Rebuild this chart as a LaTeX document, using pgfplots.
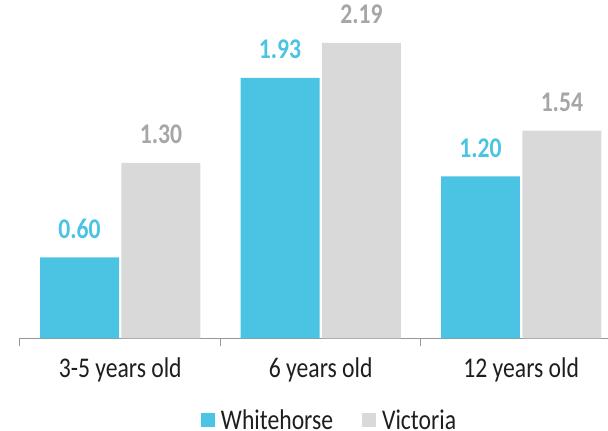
\documentclass[border=0pt]{standalone}
\usepackage{fontspec}
\setmainfont{Carlito}[FakeStretch=0.83]
\usepackage{pgfplots}
\pgfplotsset{compat=1.18}
\definecolor{whBlue}{RGB}{75,195,226}
\definecolor{viGray}{RGB}{217,217,217}
\definecolor{viLabel}{RGB}{166,166,166}
\definecolor{axGray}{RGB}{150,150,150}
\definecolor{txt}{RGB}{30,30,30}

\begin{document}
\fontsize{28.5}{32}\selectfont
\begin{tikzpicture}
\path[use as bounding box] (-20pt,-92.5pt) rectangle (588pt,338.5pt);
\begin{axis}[
    at={(0,0)}, anchor=south west,
    scale only axis, width=588pt, height=338.5pt,
    xmin=-0.5, xmax=2.433, ymin=0, ymax=2.507,
    ybar, bar width=0.394,
    axis x line*=bottom, axis y line=none,
    axis line style={axGray, line width=1pt},
    clip=false,
    tick align=outside,
    major tick length=0pt,
    xtick={0,1,2},
    xticklabels={3-5 years old, 6 years old, 12 years old},
    xticklabel style={anchor=base, yshift=-38.5pt, text=txt},
    extra x ticks={-0.5,0.5,1.5,2.5},
    extra x tick labels={},
    extra tick style={major tick length=7pt, tick style={axGray, line width=1pt}},
    /pgf/number format/assume math mode=true,
    nodes near coords={\pgfmathprintnumber[fixed,fixed zerofill,precision=2]{\pgfplotspointmeta}},
    every node near coord/.append style={font=\bfseries, anchor=base, yshift=19pt},
    legend columns=2,
    legend image code/.code={\fill[#1] (0pt,-5pt) rectangle (14pt,9pt);},
    legend style={draw=none, fill=none, at={(0.3078,-0.281)}, anchor=south west,
        inner sep=0pt, outer sep=0pt, text=txt, nodes={inner sep=0pt},
        /tikz/every odd column/.append style={column sep=6pt},
        /tikz/every even column/.append style={column sep=29pt}},
]
\addplot[fill=whBlue, draw=none, bar shift=-0.203,
    every node near coord/.append style={text=whBlue}]
    coordinates {(0,0.60) (1,1.93) (2,1.20)};
\addplot[fill=viGray, draw=none, bar shift=0.203,
    every node near coord/.append style={text=viLabel}]
    coordinates {(0,1.30) (1,2.19) (2,1.54)};
\legend{Whitehorse, Victoria}
\end{axis}
\end{tikzpicture}
\end{document}
